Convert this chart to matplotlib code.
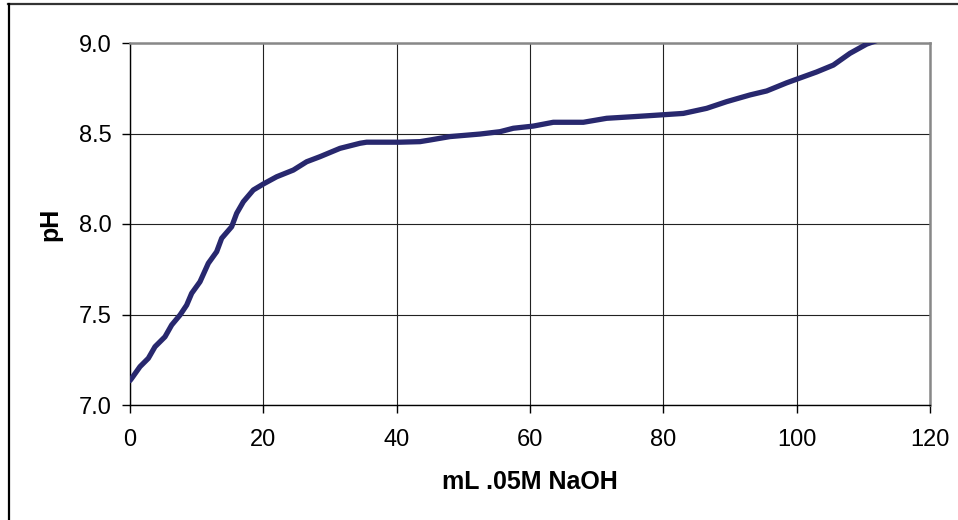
import matplotlib
matplotlib.use('Agg')
import matplotlib.pyplot as plt
from matplotlib.lines import Line2D

# titration curve
ml_naoh = [0, 0.25, 1.5, 2.75, 3.75, 5.25, 6.25, 7.5, 8.5, 9.25, 10.5, 11.75,
           13.0, 13.75, 15.25, 16.0, 17.0, 18.5, 20.0, 22.0, 24.5, 26.5, 28.5,
           31.5, 34.5, 35.5, 40.5, 43.5, 45, 48, 52.5, 55.5, 57.5, 60.5, 63.5,
           68, 71.5, 75.5, 78.5, 83, 86.5, 89.5, 93, 95.5, 98.5, 103, 105.5,
           108, 110.5, 112.5]
ph = [7.135, 7.147, 7.212, 7.258, 7.322, 7.377, 7.442, 7.497, 7.552, 7.617,
      7.681, 7.783, 7.847, 7.921, 7.985, 8.059, 8.123, 8.188, 8.221, 8.261,
      8.298, 8.344, 8.372, 8.418, 8.446, 8.452, 8.452, 8.455, 8.464, 8.483,
      8.497, 8.51, 8.529, 8.541, 8.562, 8.562, 8.584, 8.593, 8.60, 8.611,
      8.639, 8.676, 8.713, 8.735, 8.78, 8.84, 8.878, 8.943, 8.994, 9.02]
x_ticks = [0, 20, 40, 60, 80, 100, 120]
y_ticks = [7.0, 7.5, 8.0, 8.5, 9.0]

plt.rcParams['font.family'] = ['Liberation Sans', 'DejaVu Sans']

W, H = 958, 520
fig = plt.figure(figsize=(W / 100, H / 100), dpi=100)
ax = fig.add_axes([130 / W, 1 - 405 / H, 800 / W, 362 / H])

ax.plot(ml_naoh, ph, color='#28286E', lw=3.8, solid_joinstyle='round',
        solid_capstyle='round', zorder=3)

ax.set_xlim(0, 120)
ax.set_ylim(7.0, 9.0)
ax.set_xticks(x_ticks)
ax.set_yticks(y_ticks)
ax.set_yticklabels([f'{v:.1f}' for v in y_ticks])
ax.tick_params(direction='out', length=6, width=1, colors='black', labelsize=17)
ax.tick_params(axis='x', pad=11)
ax.tick_params(axis='y', pad=7)
ax.grid(True, color='#222222', lw=0.8)
ax.set_axisbelow(True)

for side in ['left', 'bottom']:
    ax.spines[side].set_color('black')
    ax.spines[side].set_linewidth(1.0)
for side in ['top', 'right']:
    ax.spines[side].set_color('#888888')
    ax.spines[side].set_linewidth(1.8)

ax.set_xlabel('mL .05M NaOH', fontsize=18, fontweight='bold', labelpad=14)
ax.set_ylabel('pH', fontsize=18, fontweight='bold', labelpad=12)

# outer chart frame
fig.add_artist(Line2D([8 / W, 1], [1 - 4 / H, 1 - 4 / H], transform=fig.transFigure,
                      color='#333333', lw=1.6))
fig.add_artist(Line2D([9 / W, 9 / W], [0, 1 - 4 / H], transform=fig.transFigure,
                      color='black', lw=1.6))

plt.savefig('out.png', dpi=100)
plt.close()
